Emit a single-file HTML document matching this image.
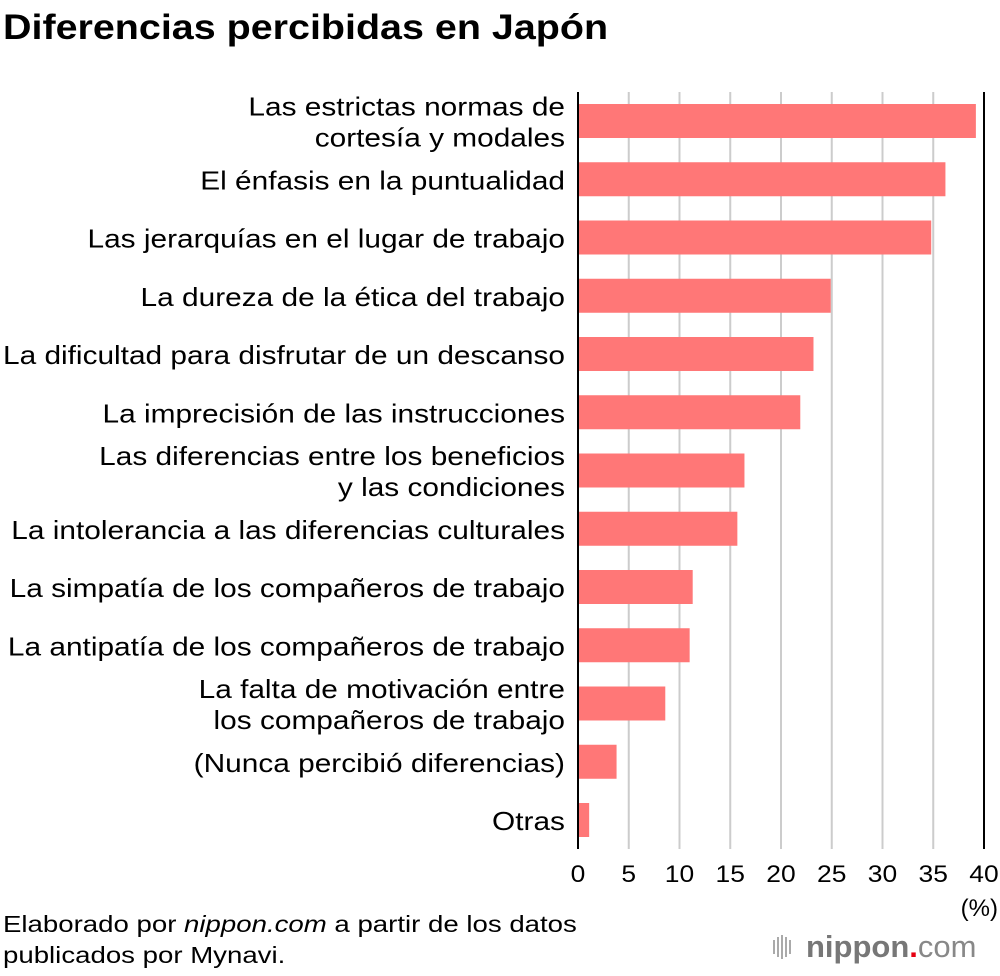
<!DOCTYPE html>
<html><head><meta charset="utf-8"><style>
body{margin:0;background:#fff;}
svg{display:block;font-family:"Liberation Sans",Arial,sans-serif;}
</style></head><body>
<svg id="chart" width="1000" height="976" viewBox="0 0 1000 976">
<text class="wide" data-f="1.127" x="3" y="39" font-size="35" font-weight="bold" fill="#000">Diferencias percibidas en Japón</text>
<g id="grid"></g>
<g id="bars"></g>
<g id="labels"></g>
<g id="ticks"></g>
<text x="998" y="916" font-size="24" text-anchor="end">(%)</text>
<text class="wide" data-f="1.2" x="3" y="932" font-size="23">Elaborado por <tspan font-style="italic">nippon.com</tspan> a partir de los datos</text>
<text class="wide" data-f="1.2" x="3" y="963" font-size="23">publicados por Mynavi.</text>
<g>
<g fill="#aaa"><rect x="773" y="940" width="2" height="14"/><rect x="777" y="937" width="2" height="20"/><rect x="781" y="935" width="2" height="24"/><rect x="785" y="937" width="2" height="20"/><rect x="789" y="940" width="2" height="14"/></g>
<text x="806" y="957" font-size="31" font-weight="bold" fill="#777">nippon<tspan fill="#e60012">.</tspan><tspan font-weight="normal" fill="#888">com</tspan></text>
</g>
</svg>
<script>
const categories=[["Las estrictas normas de","cortesía y modales"],["El énfasis en la puntualidad"],["Las jerarquías en el lugar de trabajo"],["La dureza de la ética del trabajo"],["La dificultad para disfrutar de un descanso"],["La imprecisión de las instrucciones"],["Las diferencias entre los beneficios","y las condiciones"],["La intolerancia a las diferencias culturales"],["La simpatía de los compañeros de trabajo"],["La antipatía de los compañeros de trabajo"],["La falta de motivación entre","los compañeros de trabajo"],["(Nunca percibió diferencias)"],["Otras"]];
const values=[39.2,36.2,34.8,24.9,23.2,21.9,16.4,15.7,11.3,11.0,8.6,3.8,1.1];
const tickValues=[0,5,10,15,20,25,30,35,40];
const NS="http://www.w3.org/2000/svg";
const x0=578,x1=984,xMax=40,top0=104,pitch=58.25,barH=34,gTop=92,gBot=849;
function xs(v){return x0+(x1-x0)*v/xMax;}
function ys(i){return top0+i*pitch;}
function mk(t,a){const e=document.createElementNS(NS,t);for(const k in a)e.setAttribute(k,a[k]);return e;}
const grid=document.getElementById('grid'),bars=document.getElementById('bars'),labels=document.getElementById('labels'),ticks=document.getElementById('ticks');
tickValues.forEach(v=>{
  const edge=(v===0||v===xMax);
  const l=mk('line',{x1:xs(v),x2:xs(v),y1:gTop,y2:gBot,stroke:edge?'#000':'#ccc','stroke-width':2});
  
  
  grid.appendChild(l);
  const t=mk('text',{x:xs(v),y:882,'font-size':24,'text-anchor':'middle','class':'wide','data-f':'1.1'});
  t.textContent=v;
  
  
  ticks.appendChild(t);
});
values.forEach((v,i)=>{
  const r=mk('rect',{x:x0+1,y:ys(i),width:xs(v)-x0-1,height:barH,fill:'#ff7777'});
  
  
  bars.appendChild(r);
  const lines=categories[i];
  const cy=ys(i)+barH/2;
  lines.forEach((s,j)=>{
    const yy=cy+10+(j-(lines.length-1)/2)*31;
    const t=mk('text',{x:565,y:yy,'font-size':26,'text-anchor':'end','class':'wide','data-f':'1.147'});
    t.textContent=s;
    
    
    labels.appendChild(t);
  });
});
document.querySelectorAll('text.wide').forEach(t=>{
  const f=parseFloat(t.getAttribute('data-f'));
  const w=t.getComputedTextLength();
  t.setAttribute('textLength',w*f);
  t.setAttribute('lengthAdjust','spacingAndGlyphs');
});
</script>
</body></html>
